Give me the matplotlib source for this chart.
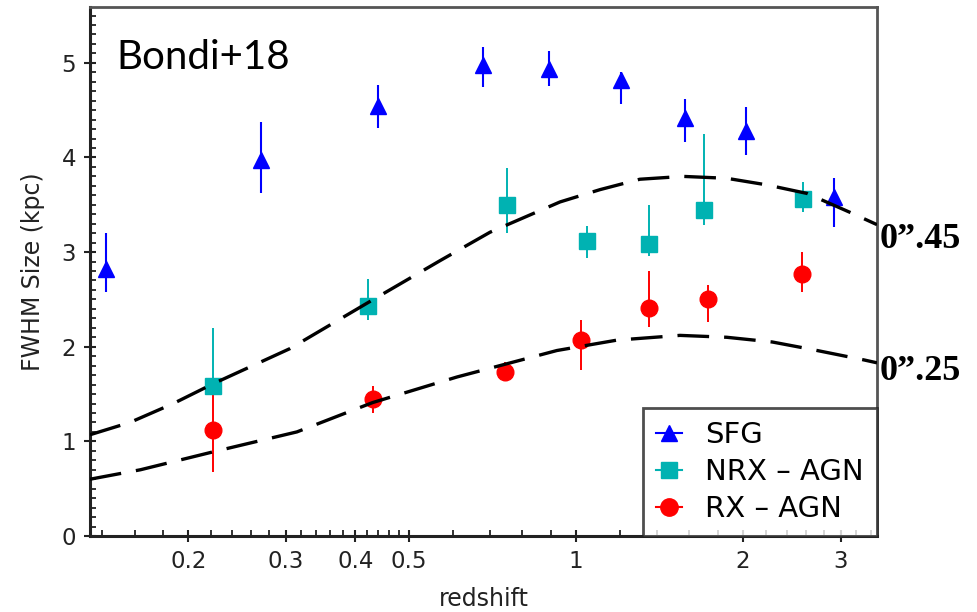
import matplotlib
matplotlib.use("Agg")
import matplotlib.pyplot as plt
from matplotlib.lines import Line2D
from matplotlib.ticker import FixedLocator, NullFormatter, FixedFormatter

# ---------------- data ----------------
sfg_z = [0.142, 0.271, 0.440, 0.681, 0.895, 1.204, 1.570, 2.03, 2.917]
sfg_s = [2.82, 3.97, 4.54, 4.98, 4.93, 4.82, 4.42, 4.28, 3.58]
sfg_lo = [2.58, 3.62, 4.31, 4.74, 4.76, 4.57, 4.16, 4.03, 3.27]
sfg_hi = [3.20, 4.37, 4.77, 5.17, 5.13, 4.90, 4.62, 4.53, 3.78]

nrx_z = [0.222, 0.421, 0.750, 1.047, 1.355, 1.703, 2.568]
nrx_s = [1.59, 2.43, 3.50, 3.12, 3.09, 3.45, 3.56]
nrx_lo = [1.50, 2.28, 3.20, 2.94, 2.96, 3.29, 3.42]
nrx_hi = [2.20, 2.72, 3.89, 3.28, 3.50, 4.25, 3.74]

rx_z = [0.222, 0.430, 0.745, 1.021, 1.354, 1.727, 2.557]
rx_s = [1.12, 1.45, 1.73, 2.07, 2.41, 2.50, 2.77]
rx_lo = [0.68, 1.30, 1.66, 1.75, 2.21, 2.26, 2.58]
rx_hi = [1.50, 1.58, 1.84, 2.28, 2.80, 2.65, 3.00]

# dashed curves
c45_z = [0.133, 0.157, 0.188, 0.222, 0.305, 0.42, 0.569, 0.70, 0.936, 1.105,
         1.304, 1.56, 1.87, 2.21, 2.61, 3.12, 3.49]
c45_s = [1.07, 1.20, 1.40, 1.61, 1.98, 2.46, 2.91, 3.21, 3.53, 3.66,
         3.77, 3.80, 3.78, 3.71, 3.62, 3.42, 3.29]
c25_z = [0.133, 0.164, 0.222, 0.314, 0.43, 0.61, 0.924, 1.186, 1.54, 1.87,
         2.26, 2.67, 3.31, 3.49]
c25_s = [0.60, 0.70, 0.89, 1.10, 1.41, 1.68, 1.96, 2.07, 2.12, 2.10,
         2.05, 1.97, 1.86, 1.83]

xmajor = [0.2, 0.3, 0.4, 0.5, 1, 2, 3]
xmajor_labels = ["0.2", "0.3", "0.4", "0.5", "1", "2", "3"]
xminor = [0.14, 0.16, 0.18, 0.22, 0.24, 0.26, 0.28, 0.32, 0.34, 0.36, 0.38,
          0.42, 0.44, 0.46, 0.48, 0.6, 0.7, 0.8, 0.9, 1.2, 1.4, 1.6, 1.8,
          2.2, 2.4, 2.6, 2.8, 3.2, 3.4]

series_labels = ["SFG", "NRX \u2013 AGN", "RX \u2013 AGN"]
c_blue = "#0000FF"
c_cyan = "#00B2B2"
c_red = "#FF0000"

plt.rcParams['font.family'] = ['DejaVu Sans']

fig = plt.figure(figsize=(9.78, 6.12), dpi=100)
ax = fig.add_axes([90/978, 76/612, 787/978, 529/612])

def err(s, lo, hi):
    return [[a - b for a, b in zip(s, lo)], [b - a for a, b in zip(s, hi)]]

ax.errorbar(rx_z, rx_s, yerr=err(rx_s, rx_lo, rx_hi), fmt='o', color=c_red,
            ms=12, elinewidth=1.4, capsize=0, mec=c_red, zorder=3)
ax.errorbar(nrx_z, nrx_s, yerr=err(nrx_s, nrx_lo, nrx_hi), fmt='s', color=c_cyan,
            ms=11.5, elinewidth=1.4, capsize=0, mec=c_cyan, zorder=4)
ax.errorbar(sfg_z, sfg_s, yerr=err(sfg_s, sfg_lo, sfg_hi), fmt='^', color=c_blue,
            ms=11.5, elinewidth=1.5, capsize=0, mec=c_blue, zorder=5)

ax.plot(c45_z, c45_s, color='black', lw=2.4, dashes=(9.5, 4.5), zorder=6)
ax.plot(c25_z, c25_s, color='black', lw=2.4, dashes=(9.5, 4.5), zorder=6)

ax.set_xscale('log')
ax.set_xlim(0.133, 3.49)
ax.set_ylim(0, 5.59)

ax.xaxis.set_major_locator(FixedLocator(xmajor))
ax.xaxis.set_major_formatter(FixedFormatter(xmajor_labels))
ax.xaxis.set_minor_locator(FixedLocator(xminor))
ax.xaxis.set_minor_formatter(NullFormatter())
ax.yaxis.set_major_locator(FixedLocator([0, 1, 2, 3, 4, 5]))
ax.yaxis.set_minor_locator(FixedLocator([i / 10 for i in range(56)]))

ax.tick_params(which='major', direction='inout', length=8, width=1.5,
               labelsize=16.5, pad=6, colors='#222222')
ax.tick_params(which='minor', direction='in', length=4, width=1.3, color='#222222')
ax.tick_params(top=False, right=False, which='both')

for side in ['left', 'bottom']:
    ax.spines[side].set_linewidth(2.2)
    ax.spines[side].set_color('#222222')
for side in ['top', 'right']:
    ax.spines[side].set_linewidth(2.0)
    ax.spines[side].set_color('#555555')

ax.set_xlabel("redshift", fontsize=17, color='#222222', labelpad=10)
ax.set_ylabel("FWHM Size (kpc)", fontsize=17, color='#222222', labelpad=12)

ax.text(0.033, 0.905, "Bondi+18", transform=ax.transAxes, fontsize=29,
        family=['Lato', 'DejaVu Sans'], color='black', va='center', ha='left')

fig.text(880/978, 1 - 240/612, "0\u201d.45", fontsize=26, fontweight='bold',
         family=['Liberation Serif', 'DejaVu Serif'], va='center', ha='left')
fig.text(880/978, 1 - 372/612, "0\u201d.25", fontsize=26, fontweight='bold',
         family=['Liberation Serif', 'DejaVu Serif'], va='center', ha='left')

handles = [
    Line2D([], [], color=c_blue, marker='^', ms=12, lw=1.5),
    Line2D([], [], color=c_cyan, marker='s', ms=12, lw=1.5),
    Line2D([], [], color=c_red, marker='o', ms=12.5, lw=1.5),
]
leg = ax.legend(handles, series_labels, loc='lower right', fontsize=21,
                frameon=True, fancybox=False, edgecolor='#222222',
                borderaxespad=0, borderpad=0.45, labelspacing=0.3,
                handlelength=0.9, handletextpad=0.8)
leg.get_frame().set_linewidth(2.0)
leg.set_zorder(10)

fig.savefig("out.png", dpi=100)
